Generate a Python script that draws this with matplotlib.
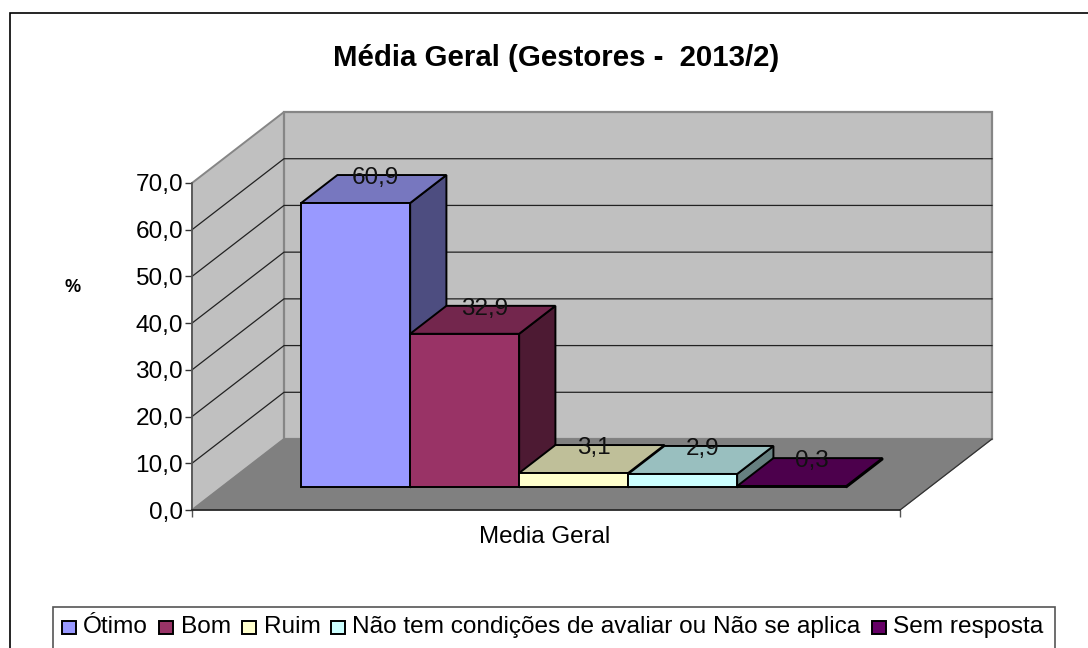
"""
Media geral (Gestores 2013/2): clustered bars in an oblique 3D box,
drawn as plain polygons on a 2D value axis.
"""

import matplotlib
matplotlib.use("Agg")
import matplotlib.pyplot as plt
from matplotlib.patches import Polygon, Rectangle

plt.rcParams['font.family'] = ['Liberation Sans', 'DejaVu Sans']

categories = ['Ótimo', 'Bom', 'Ruim', 'Não tem condições de avaliar ou Não se aplica', 'Sem resposta']
values = [60.9, 32.9, 3.1, 2.9, 0.3]
value_labels = ['60,9', '32,9', '3,1', '2,9', '0,3']
y_ticks = [0, 10, 20, 30, 40, 50, 60, 70]
y_tick_labels = ['0,0', '10,0', '20,0', '30,0', '40,0', '50,0', '60,0', '70,0']
group_label = 'Media Geral'

FRONT = ['#9999FF', '#993366', '#FFFFCC', '#CCFFFF', '#660066']
TOP = ['#7777BF', '#73264D', '#BFBF99', '#99BFBF', '#4C004C']
SIDE = ['#4D4D80', '#4D1A33', '#808066', '#668080', '#330033']

W, H = 1088, 648

# oblique depth of the box, in axis units
BOX_DX = 92 / 708
BOX_DY = 71 / (327 / 70)
BAR_D0, BAR_D1 = 0.317, 0.711
BAR_X0, BAR_W = 80 / 708, 109 / 708


def depth(x, y, d):
    return (x + d * BOX_DX, y + d * BOX_DY)


def face(ax, pts, color, edge='black', lw=1.4, z=2):
    ax.add_patch(Polygon(pts, closed=True, facecolor=color, edgecolor=edge,
                         linewidth=lw, joinstyle='miter', clip_on=False, zorder=z))


def main():
    fig = plt.figure(figsize=(W / 100, H / 100), dpi=100)

    bg = fig.add_axes([0, 0, 1, 1])
    bg.set_xlim(0, W)
    bg.set_ylim(H, 0)
    bg.axis('off')
    # outer chart frame runs past the right and bottom edges
    bg.add_patch(Rectangle((9.5, 12.5), 1200, 800, facecolor='white',
                           edgecolor='black', linewidth=1.2))

    ax = fig.add_axes([192 / W, (H - 510) / H, 708 / W, 327 / H])
    ax.set_xlim(0, 1)
    ax.set_ylim(0, 70)
    ax.patch.set_visible(False)
    for name in ['top', 'right']:
        ax.spines[name].set_visible(False)
    ax.spines['left'].set_color('#555555')
    ax.spines['left'].set_linewidth(1.2)
    ax.spines['bottom'].set_color('#222222')
    ax.spines['bottom'].set_linewidth(1.2)
    ax.spines['left'].set_zorder(3)
    ax.spines['bottom'].set_zorder(3)

    ax.set_yticks(y_ticks)
    ax.set_yticklabels(y_tick_labels, fontsize=17.6)
    ax.tick_params(axis='y', length=5, width=1, color='#333333', pad=1.5)
    ax.set_xticks([0, 1])
    ax.set_xticklabels([])
    ax.tick_params(axis='x', length=5, width=1, color='#555555')

    # walls and floor
    wall = '#C0C0C0'
    wall_edge = '#868686'
    face(ax, [(0, 0), (0, 70), depth(0, 70, 1), depth(0, 0, 1)], wall, wall_edge, 1.4, 1)
    face(ax, [depth(0, 0, 1), depth(0, 70, 1), depth(1, 70, 1), depth(1, 0, 1)], wall, wall_edge, 1.6, 1)
    face(ax, [(0, 0), (1, 0), depth(1, 0, 1), depth(0, 0, 1)], '#808080', '#808080', 0.8, 1)
    ax.plot(*zip((1, 0), depth(1, 0, 1)), color='#333333', lw=0.9, clip_on=False, zorder=1.5)

    # gridlines on the side and back walls
    for tick in y_ticks[1:-1]:
        ax.plot(*zip((0, tick), depth(0, tick, 1), depth(1, tick, 1)),
                color='#222222', lw=0.9, clip_on=False, zorder=1.4)

    # bars go left to right so each one overlaps its neighbour's side face
    for i, val in enumerate(values):
        x0 = BAR_X0 + i * BAR_W
        x1 = x0 + BAR_W
        p0 = depth(x0, 0, BAR_D0)
        p1 = depth(x1, 0, BAR_D0)
        t0 = depth(x0, val, BAR_D0)
        t1 = depth(x1, val, BAR_D0)
        z = 2 + i * 0.1
        face(ax, [p1, t1, depth(x1, val, BAR_D1), depth(x1, 0, BAR_D1)], SIDE[i], z=z)
        face(ax, [t0, t1, depth(x1, val, BAR_D1), depth(x0, val, BAR_D1)], TOP[i], z=z)
        face(ax, [p0, p1, t1, t0], FRONT[i], z=z)

    # value labels sit mid-way along the top face, level with its back edge
    for i, (val, label) in enumerate(zip(values, value_labels)):
        x0 = BAR_X0 + i * BAR_W
        tx = depth(x0 + BAR_W / 2, val, (BAR_D0 + BAR_D1) / 2)[0] + 2 / 708
        ty = depth(x0, val, BAR_D1)[1]
        ax.text(tx, ty - 0.7, label, ha='center', va='center', fontsize=17.5,
                color='#111111', clip_on=False, zorder=5)

    bg.text(545, 537, group_label, ha='center', va='center', fontsize=17.4)
    bg.text(73, 288, '%', ha='center', va='center', fontsize=13, fontweight='bold')

    bg.text(556.5, 58, 'Média Geral (Gestores -  2013/2)', ha='center', va='center',
            fontsize=21.2, fontweight='bold')

    # legend box is cut off by the bottom edge
    bg.add_patch(Rectangle((52.5, 606.5), 1002, 80, facecolor='white',
                           edgecolor='#555555', linewidth=1.2))
    swatch_x = [62, 159, 242, 331, 872]
    text_x = [83, 181, 264, 352, 893]
    for sx, tx, name, color in zip(swatch_x, text_x, categories, FRONT):
        bg.add_patch(Rectangle((sx, 621), 14, 13, facecolor=color, edgecolor='black', linewidth=1.4))
        bg.text(tx, 627, name, ha='left', va='center', fontsize=17.6)

    fig.savefig('out.png', dpi=100)


if __name__ == "__main__":
    main()
